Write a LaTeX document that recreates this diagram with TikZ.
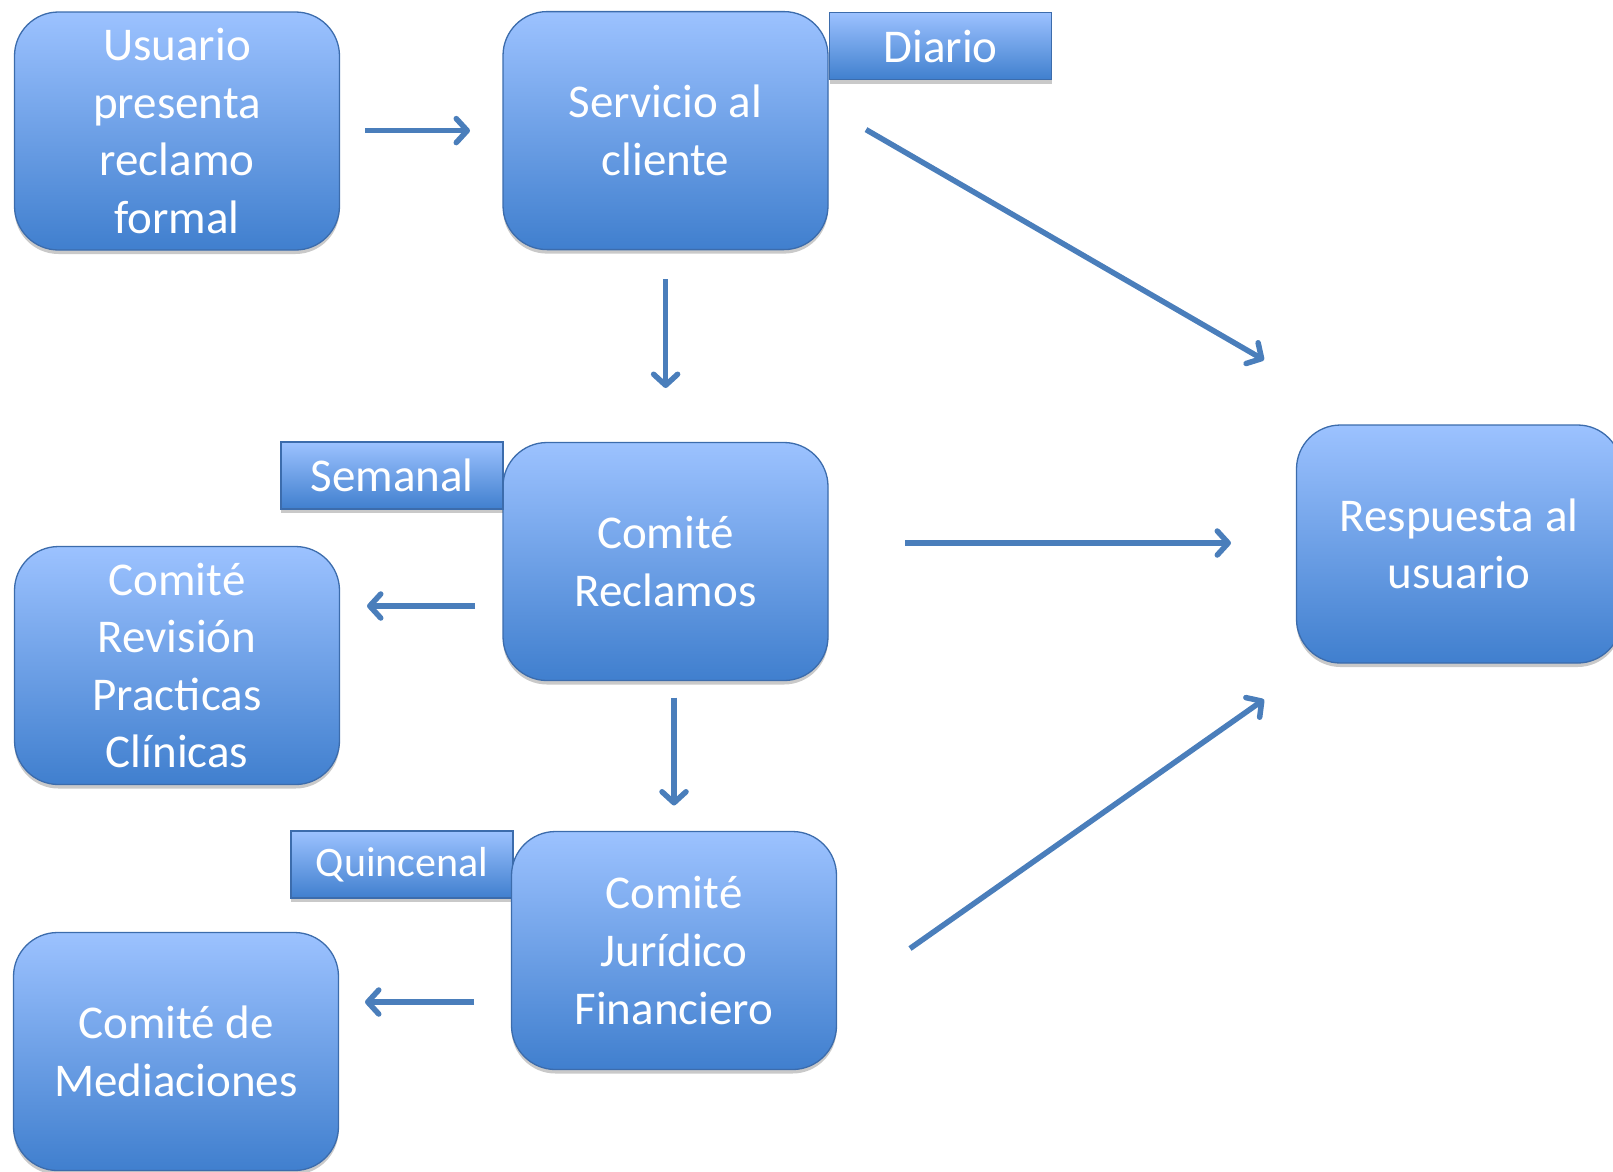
\documentclass[tikz,border=0pt]{standalone}
\usepackage{fontspec}
\setmainfont{Carlito}
\usetikzlibrary{arrows.meta,shadows}
\definecolor{boxtop}{RGB}{156,194,255}
\definecolor{boxbot}{RGB}{64,127,206}
\definecolor{boxline}{RGB}{60,108,172}
\definecolor{arr}{RGB}{74,126,187}
\tikzset{
  base/.style={draw=boxline, line width=1.3pt, top color=boxtop, bottom color=boxbot,
    text=white, align=center, inner sep=0pt,
    drop shadow={shadow xshift=0pt, shadow yshift=-4pt, opacity=0.3, fill=black!70}},
  bigbox/.style={base, rounded corners=44pt, minimum width=325pt, minimum height=238pt,
    font=\fontsize{47}{57.6}\selectfont},
  tag/.style={base, minimum width=222pt, minimum height=67pt,
    font=\fontsize{47}{57.6}\selectfont},
  flow/.style={draw=arr, line width=5.5pt, -{Straight Barb[length=11pt,width=24pt,round]}}
}
\begin{document}
\begin{tikzpicture}[x=1pt,y=-1pt]
\useasboundingbox (0,0) rectangle (1613,1171);
\node[bigbox] (usuario) at (177,131) {Usuario\\presenta\\reclamo\\formal};
\node[bigbox] (servicio) at (665.5,130.6) {Servicio al\\cliente};
\node[tag] (diario) at (940.5,46) {Diario};
\node[bigbox] (reclamos) at (665.5,561.5) {Comité\\Reclamos};
\node[tag] (semanal) at (392,475.5) {Semanal};
\node[bigbox] (revision) at (177,665.5) {Comité\\Revisión\\Practicas\\Clínicas};
\node[bigbox] (respuesta) at (1459,544) {Respuesta al\\usuario};
\node[tag, font=\fontsize{42}{50}\selectfont] (quincenal) at (402,864.5) {Quincenal};
\node[bigbox] (juridico) at (674,950.5) {Comité\\Jurídico\\Financiero};
\node[bigbox] (mediaciones) at (176,1051.5) {Comité de\\Mediaciones};

\coordinate (a1s) at (365,130.6);  \coordinate (a1e) at (470,130.6);
\coordinate (a2s) at (665.6,279);  \coordinate (a2e) at (665.6,388);
\coordinate (a3s) at (866,129.6);  \coordinate (a3e) at (1264,360);
\coordinate (a4s) at (905,543);    \coordinate (a4e) at (1231,543);
\coordinate (a5s) at (475,606);    \coordinate (a5e) at (367,606);
\coordinate (a6s) at (674,697.5);  \coordinate (a6e) at (674,805.5);
\coordinate (a7s) at (474,1002);   \coordinate (a7e) at (365,1002);
\coordinate (a8s) at (910,948.5);  \coordinate (a8e) at (1264,699.5);

\draw[flow] (a1s) -- (a1e);
\draw[flow] (a2s) -- (a2e);
\draw[flow] (a3s) -- (a3e);
\draw[flow] (a4s) -- (a4e);
\draw[flow] (a5s) -- (a5e);
\draw[flow] (a6s) -- (a6e);
\draw[flow] (a7s) -- (a7e);
\draw[flow] (a8s) -- (a8e);
\end{tikzpicture}
\end{document}
